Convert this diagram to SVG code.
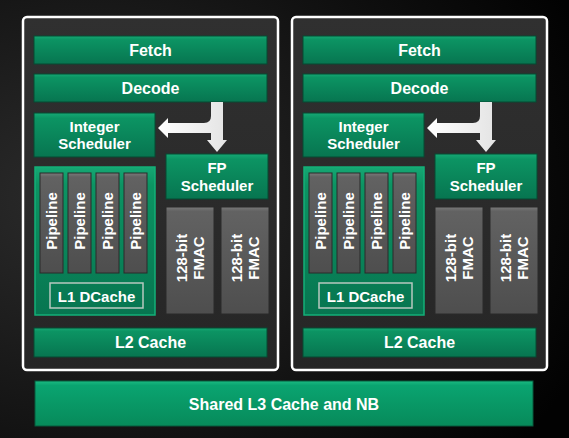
<svg xmlns="http://www.w3.org/2000/svg" width="569" height="438" viewBox="0 0 569 438">
<defs>
<radialGradient id="bg" cx="0.15" cy="0.45" r="0.95">
<stop offset="0" stop-color="#2c2c2c"/>
<stop offset="0.6" stop-color="#121212"/>
<stop offset="1" stop-color="#020202"/>
</radialGradient>
<linearGradient id="core" x1="0" y1="0" x2="0" y2="1">
<stop offset="0" stop-color="#303030"/>
<stop offset="1" stop-color="#262626"/>
</linearGradient>
<linearGradient id="green" x1="0" y1="0" x2="0" y2="1">
<stop offset="0" stop-color="#16a874"/>
<stop offset="0.12" stop-color="#0c9463"/>
<stop offset="1" stop-color="#077550"/>
</linearGradient>
<linearGradient id="green3" x1="0" y1="0" x2="0" y2="1">
<stop offset="0" stop-color="#1bbb82"/>
<stop offset="0.1" stop-color="#0aa470"/>
<stop offset="1" stop-color="#078a5a"/>
</linearGradient>
<linearGradient id="gray" x1="0" y1="0" x2="0" y2="1">
<stop offset="0" stop-color="#7a7a7a"/>
<stop offset="0.04" stop-color="#626262"/>
<stop offset="1" stop-color="#4e4e4e"/>
</linearGradient>
<linearGradient id="arrowg" x1="0" y1="0" x2="1" y2="0">
<stop offset="0" stop-color="#ffffff"/>
<stop offset="1" stop-color="#e4e4e4"/>
</linearGradient>
</defs>
<style>
.core{fill:url(#core);stroke:#ffffff;stroke-width:2.5}
.g{fill:url(#green);stroke:#064a33;stroke-width:1}
.gb{fill:url(#green);stroke:#13b078;stroke-width:1.5}
.g3{fill:url(#green3);stroke:#065a3c;stroke-width:1}
.gr{fill:url(#gray);stroke:#2a2a2a;stroke-width:1}
.l1{fill:none;stroke:#b8c8c0;stroke-width:1.5}
text{font-family:"Liberation Sans",Arial,sans-serif;font-weight:bold;fill:#ffffff;text-anchor:middle}
.t16{font-size:16px}
.t15{font-size:15px}
.arr{fill:url(#arrowg)}
</style>
<rect x="0" y="0" width="569" height="438" fill="url(#bg)"/>

<g id="core0">
<rect class="core" x="23" y="17" width="255" height="353" rx="4"/>
<g id="fetch0"><rect class="g" x="34" y="36" width="233" height="28"/><text class="t16" x="150.5" y="56">Fetch</text></g>
<g id="decode0"><rect class="g" x="34" y="74" width="233" height="28"/><text class="t16" x="150.5" y="94">Decode</text></g>
<g id="intsched0"><rect class="g" x="34" y="113" width="121" height="44"/><text class="t15" x="94.5" y="132">Integer</text><text class="t15" x="94.5" y="149">Scheduler</text></g>
<g id="fpsched0"><rect class="g" x="166" y="154" width="102" height="45"/><text class="t15" x="217" y="173">FP</text><text class="t15" x="217" y="191">Scheduler</text></g>
<g id="intblock0">
<rect class="gb" x="35" y="167" width="120" height="148"/>
<g id="pipe0a"><rect class="gr" x="40" y="173" width="23" height="100"/><text class="t15" transform="translate(51.5,221) rotate(-90)" y="5.5">Pipeline</text></g>
<g id="pipe0b"><rect class="gr" x="68" y="173" width="23" height="100"/><text class="t15" transform="translate(79.5,221) rotate(-90)" y="5.5">Pipeline</text></g>
<g id="pipe0c"><rect class="gr" x="96" y="173" width="23" height="100"/><text class="t15" transform="translate(107.5,221) rotate(-90)" y="5.5">Pipeline</text></g>
<g id="pipe0d"><rect class="gr" x="124" y="173" width="23" height="100"/><text class="t15" transform="translate(135.5,221) rotate(-90)" y="5.5">Pipeline</text></g>
<g id="l1_0"><rect class="l1" x="50" y="283" width="93" height="25"/><text class="t15" x="96.5" y="302">L1 DCache</text></g>
</g>
<g id="fmac0a"><rect class="gr" x="166" y="207" width="48" height="107"/><text class="t15" transform="translate(190,258) rotate(-90)"><tspan x="0" y="-3">128-bit</tspan><tspan x="0" y="14">FMAC</tspan></text></g>
<g id="fmac0b"><rect class="gr" x="221" y="207" width="48" height="107"/><text class="t15" transform="translate(245,258) rotate(-90)"><tspan x="0" y="-3">128-bit</tspan><tspan x="0" y="14">FMAC</tspan></text></g>
<g id="l2_0"><rect class="g" x="34" y="328" width="233" height="29"/><text class="t16" x="150.5" y="348">L2 Cache</text></g>
</g>

<g id="core1" transform="translate(269,0)">
<rect class="core" x="23" y="17" width="255" height="353" rx="4"/>
<g id="fetch1"><rect class="g" x="34" y="36" width="233" height="28"/><text class="t16" x="150.5" y="56">Fetch</text></g>
<g id="decode1"><rect class="g" x="34" y="74" width="233" height="28"/><text class="t16" x="150.5" y="94">Decode</text></g>
<g id="intsched1"><rect class="g" x="34" y="113" width="121" height="44"/><text class="t15" x="94.5" y="132">Integer</text><text class="t15" x="94.5" y="149">Scheduler</text></g>
<g id="fpsched1"><rect class="g" x="166" y="154" width="102" height="45"/><text class="t15" x="217" y="173">FP</text><text class="t15" x="217" y="191">Scheduler</text></g>
<g id="intblock1">
<rect class="gb" x="35" y="167" width="120" height="148"/>
<g id="pipe1a"><rect class="gr" x="40" y="173" width="23" height="100"/><text class="t15" transform="translate(51.5,221) rotate(-90)" y="5.5">Pipeline</text></g>
<g id="pipe1b"><rect class="gr" x="68" y="173" width="23" height="100"/><text class="t15" transform="translate(79.5,221) rotate(-90)" y="5.5">Pipeline</text></g>
<g id="pipe1c"><rect class="gr" x="96" y="173" width="23" height="100"/><text class="t15" transform="translate(107.5,221) rotate(-90)" y="5.5">Pipeline</text></g>
<g id="pipe1d"><rect class="gr" x="124" y="173" width="23" height="100"/><text class="t15" transform="translate(135.5,221) rotate(-90)" y="5.5">Pipeline</text></g>
<g id="l1_1"><rect class="l1" x="50" y="283" width="93" height="25"/><text class="t15" x="96.5" y="302">L1 DCache</text></g>
</g>
<g id="fmac1a"><rect class="gr" x="166" y="207" width="48" height="107"/><text class="t15" transform="translate(190,258) rotate(-90)"><tspan x="0" y="-3">128-bit</tspan><tspan x="0" y="14">FMAC</tspan></text></g>
<g id="fmac1b"><rect class="gr" x="221" y="207" width="48" height="107"/><text class="t15" transform="translate(245,258) rotate(-90)"><tspan x="0" y="-3">128-bit</tspan><tspan x="0" y="14">FMAC</tspan></text></g>
<g id="l2_1"><rect class="g" x="34" y="328" width="233" height="29"/><text class="t16" x="150.5" y="348">L2 Cache</text></g>
</g>

<g id="l3"><rect class="g3" x="35" y="381" width="498" height="45"/><text class="t16" x="284" y="410">Shared L3 Cache and NB</text></g>

<g id="connectors">
<path class="arr" d="M211,102 L211,116 Q211,123 204,123 L168,123 L168,118 L158,128 L168,138 L168,133 L211,133 L211,140 L207,140 L217,152 L227,140 L223,140 L223,102 Z"/>
<path class="arr" transform="translate(269,0)" d="M211,102 L211,116 Q211,123 204,123 L168,123 L168,118 L158,128 L168,138 L168,133 L211,133 L211,140 L207,140 L217,152 L227,140 L223,140 L223,102 Z"/>
</g>
</svg>
